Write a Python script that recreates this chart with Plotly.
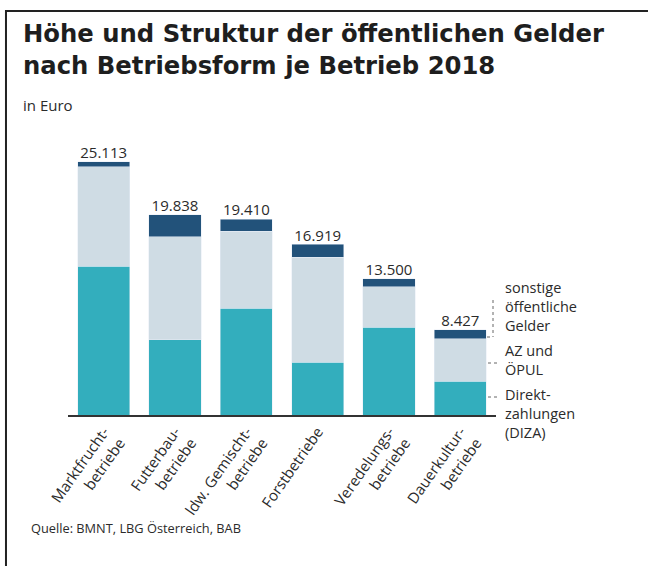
import plotly.graph_objects as go

# Betriebsformen (Kategorien)
categories = ["Marktfrucht-<br>betriebe", "Futterbau-<br>betriebe", "ldw. Gemischt-<br>betriebe",
              "Forstbetriebe", "Veredelungs-<br>betriebe", "Dauerkultur-<br>betriebe"]
# Werte in Euro je Betrieb
diza = [14730, 7458, 10560, 5219, 8680, 3367]
az_oepul = [9880, 10200, 7650, 10400, 4030, 4180]
sonstige = [503, 2180, 1200, 1300, 790, 880]
totals = [25113, 19838, 19410, 16919, 13500, 8427]

title_lines = ["Höhe und Struktur der öffentlichen Gelder", "nach Betriebsform je Betrieb 2018"]
legend_labels = ["sonstige<br>öffentliche<br>Gelder", "AZ und<br>ÖPUL",
                 "Direkt-<br>zahlungen<br>(DIZA)"]

W, H = 648, 566
L, R, T, B = 68, 152, 140, 151
FONT = "Open Sans"
TXT = "#2b2b2b"


def px(x):
    return (x - L) / (W - L - R)


def py(y):
    return (H - B - y) / (H - T - B)


fig = go.Figure()
fig.add_trace(go.Bar(x=categories, y=diza, marker_color="#33aebd", name="DIZA"))
fig.add_trace(go.Bar(x=categories, y=az_oepul, marker_color="#cfdce4", name="AZ und ÖPUL"))
fig.add_trace(go.Bar(x=categories, y=sonstige, marker_color="#22527a", name="sonstige"))
fig.add_trace(go.Scatter(
    x=categories, y=totals, mode="text",
    text=["{:,}".format(v).replace(",", ".") for v in totals],
    textposition="top center",
    textfont=dict(family=FONT, size=15, color=TXT),
    hoverinfo="skip",
))

annotations = []
for i, line in enumerate(title_lines):
    annotations.append(dict(text="<b>" + line + "</b>", x=px(21), y=py(33.5 + 31.5 * i),
                            xanchor="left", yanchor="middle",
                            font=dict(family="DejaVu Sans", size=24.3, color="#1e1e1e")))
annotations.append(dict(text="in Euro", x=px(21), y=py(105), xanchor="left", yanchor="middle",
                        font=dict(family=FONT, size=15, color=TXT)))
# Legende rechts
for yc, label in zip([306, 359.5, 413], legend_labels):
    annotations.append(dict(text=label, x=px(503), y=py(yc), xanchor="left", align="left",
                            yanchor="middle", font=dict(family=FONT, size=14.5, color=TXT)))
annotations.append(dict(text="Quelle: BMNT, LBG Österreich, BAB", x=px(29), y=py(528),
                        xanchor="left", yanchor="middle",
                        font=dict(family=FONT, size=12.8, color=TXT)))
for a in annotations:
    a.update(xref="paper", yref="paper", showarrow=False)

dot = dict(color="#666666", width=1, dash="dot")
# Rahmen (links und oben)
frame_path = "M {:.4f},{:.4f} L {:.4f},{:.4f} L {:.4f},{:.4f}".format(
    px(6), py(H), px(6), py(11), px(W), py(11))
shapes = [
    dict(type="path", path=frame_path, line=dict(color="#222", width=2)),
    # Legendenverbinder
    dict(type="line", x0=px(493), x1=px(493), y0=py(300), y1=py(337), line=dot),
    dict(type="line", x0=px(487), x1=px(493), y0=py(337), y1=py(337), line=dot),
    dict(type="line", x0=px(488), x1=px(497), y0=py(363), y1=py(363), line=dot),
    dict(type="line", x0=px(488), x1=px(497), y0=py(397), y1=py(397), line=dot),
]
for s in shapes:
    s.update(xref="paper", yref="paper")

fig.update_layout(
    width=W, height=H,
    margin=dict(l=L, r=R, t=T, b=B),
    barmode="stack", bargap=0.27,
    showlegend=False,
    plot_bgcolor="white", paper_bgcolor="white",
    font=dict(family=FONT, color=TXT),
    xaxis=dict(showline=True, linecolor="#333", linewidth=2, tickangle=-55,
               tickfont=dict(family=FONT, size=15, color=TXT), ticks="",
               range=[-0.5, 5.5]),
    yaxis=dict(visible=False, range=[0, 27255]),
    annotations=annotations,
    shapes=shapes,
)

fig.write_html("out.html", config={"displayModeBar": False},
               post_script="document.body.style.margin = '0';")
